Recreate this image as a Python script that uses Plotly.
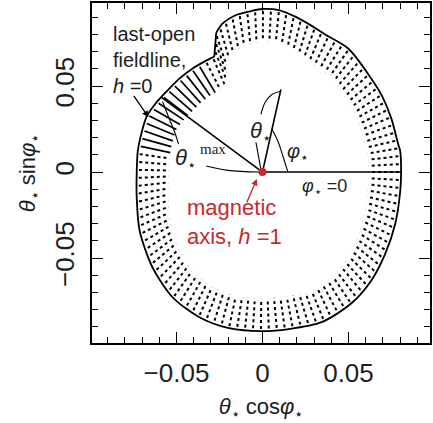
import numpy as np
import plotly.graph_objects as go

# Boundary of the polar cap (last-open fieldline), CCW from phi=0
bound_x = [0.0806, 0.0801, 0.0789, 0.0749, 0.0697, 0.0633, 0.0500, 0.0367, 0.0286, 0.0194,
           0.0095, -0.0003, -0.0066, -0.0153, -0.0234, -0.0269, -0.0280, -0.0338, -0.0408,
           -0.0483, -0.0558, -0.0621, -0.0673, -0.0708, -0.0725, -0.0731, -0.0731, -0.0714,
           -0.0639, -0.0523, -0.0367, -0.0194, -0.0003, 0.0153, 0.0344, 0.0517, 0.0633,
           0.0714, 0.0772, 0.0801]
bound_y = [0.0000, 0.0121, 0.0162, 0.0312, 0.0439, 0.0543, 0.0717, 0.0798, 0.0850, 0.0902,
           0.0942, 0.0948, 0.0936, 0.0913, 0.0861, 0.0809, 0.0671, 0.0642, 0.0601,
           0.0543, 0.0468, 0.0399, 0.0324, 0.0208, 0.0121, 0.0000, -0.0150, -0.0341,
           -0.0555, -0.0728, -0.0844, -0.0908, -0.0925, -0.0913, -0.0873, -0.0763, -0.0630,
           -0.0474, -0.0301, -0.0110]
NOTCH_TOP, NOTCH_BOTTOM = 15, 16   # indices of the notch corners

# Rays and guide curves
theta_max_ray_x = [0.0, -0.0587]
theta_max_ray_y = [0.0, 0.0434]
theta_ray_x = [0.0, 0.0107]
theta_ray_y = [0.0, 0.0480]
phi_arc_x = [0.0055, 0.0090, 0.0119, 0.0148]
phi_arc_y = [0.0249, 0.0179, 0.0092, 0.0000]
theta_brk_x = [0.0101, 0.0055, 0.0015, -0.0009]
theta_brk_y = [0.0468, 0.0451, 0.0405, 0.0335]
theta_lead_x = [-0.0038, -0.0009]
theta_lead_y = [0.0173, 0.0017]
tmax_arc_x = [-0.0581, -0.0540, -0.0506, -0.0488]
tmax_arc_y = [0.0410, 0.0306, 0.0220, 0.0162]
tmax_lead_x = [-0.0327, -0.0200, -0.0020]
tmax_lead_y = [0.0035, 0.0010, 0.0000]

x_ticks = [-0.05, 0, 0.05]
x_ticktext = ["\u22120.05", "0", "0.05"]
y_ticks = [-0.05, 0, 0.05]
y_ticktext = ["\u22120.05", "0", "0.05"]

RED = "#c8282d"
INK = "#1e1e1e"
FONT = "Liberation Sans, Arial, sans-serif"
STAR = "<sub>\u22c6</sub>"

fig = go.Figure()

# hatching along the boundary (radial, inward)
bxc = np.array(bound_x + [bound_x[0]])
byc = np.array(bound_y + [bound_y[0]])
seg = np.hypot(np.diff(bxc), np.diff(byc))
s = np.concatenate([[0], np.cumsum(seg)])
n_hatch = 116
ss = np.linspace(0, s[-1], n_hatch, endpoint=False)
hx = np.interp(ss, s, bxc)
hy = np.interp(ss, s, byc)
r = np.hypot(hx, hy)
ux, uy = hx / r, hy / r
gap, L = 0.0012, 0.0175
ang = np.degrees(np.arctan2(hy, hx)) % 360
dot_x, dot_y, sol_x, sol_y = [], [], [], []
for i in range(n_hatch):
    xs = [hx[i] - ux[i] * gap, hx[i] - ux[i] * (gap + L), None]
    ys = [hy[i] - uy[i] * gap, hy[i] - uy[i] * (gap + L), None]
    if 118 <= ang[i] <= 170:
        sol_x += xs; sol_y += ys
    else:
        dot_x += xs; dot_y += ys

fig.add_trace(go.Scatter(x=dot_x, y=dot_y, mode="lines",
                         line=dict(color="black", width=2, dash="dot"), hoverinfo="skip"))
fig.add_trace(go.Scatter(x=sol_x, y=sol_y, mode="lines",
                         line=dict(color="black", width=1.7), hoverinfo="skip"))

# boundary: smooth arc from notch bottom all the way round to notch top, plus straight notch wall
order = list(range(NOTCH_BOTTOM, len(bound_x))) + list(range(0, NOTCH_TOP + 1))
fig.add_trace(go.Scatter(x=[bound_x[i] for i in order], y=[bound_y[i] for i in order], mode="lines",
                         line=dict(color="black", width=1.8, shape="spline", smoothing=0.8),
                         hoverinfo="skip"))
fig.add_trace(go.Scatter(x=[bound_x[NOTCH_TOP], bound_x[NOTCH_BOTTOM]],
                         y=[bound_y[NOTCH_TOP], bound_y[NOTCH_BOTTOM]], mode="lines",
                         line=dict(color="black", width=1.8), hoverinfo="skip"))

# phi=0 ray to boundary
fig.add_trace(go.Scatter(x=[0, bound_x[0]], y=[0, bound_y[0]], mode="lines",
                         line=dict(color="black", width=1.6), hoverinfo="skip"))
for xs, ys, w in [(theta_max_ray_x, theta_max_ray_y, 1.6), (theta_ray_x, theta_ray_y, 1.6),
                  (phi_arc_x, phi_arc_y, 1.1), (theta_brk_x, theta_brk_y, 1.1),
                  (theta_lead_x, theta_lead_y, 1.1), (tmax_arc_x, tmax_arc_y, 1.1),
                  (tmax_lead_x, tmax_lead_y, 1.1)]:
    fig.add_trace(go.Scatter(x=xs, y=ys, mode="lines",
                             line=dict(color="black", width=w, shape="spline"), hoverinfo="skip"))

# magnetic axis dot
fig.add_trace(go.Scatter(x=[0], y=[0], mode="markers", marker=dict(color=RED, size=8),
                         hoverinfo="skip"))

ann = []
ann.append(dict(x=-0.0880, y=0.0880, xref="x", yref="y", xanchor="left", yanchor="top",
                text="last-open<br>fieldline,<br><i>h</i> =0", showarrow=False, align="left",
                font=dict(size=20, color=INK, family=FONT)))
ann.append(dict(x=-0.0662, y=0.0318, ax=-0.0754, ay=0.0451, xref="x", yref="y", axref="x", ayref="y",
                text="", showarrow=True, arrowhead=2, arrowsize=1, arrowwidth=1.3, arrowcolor="black"))
ann.append(dict(x=-0.0032, y=-0.0040, ax=-0.0095, ay=-0.0185, xref="x", yref="y", axref="x", ayref="y",
                text="", showarrow=True, arrowhead=2, arrowsize=1, arrowwidth=1.3, arrowcolor=RED))
ann.append(dict(x=-0.0450, y=-0.0290, xref="x", yref="y", xanchor="left", yanchor="middle",
                text="magnetic<br>axis, <i>h</i> =1", showarrow=False, align="left",
                font=dict(size=22, color=RED, family=FONT)))
ann.append(dict(x=-0.0450, y=0.0075, xref="x", yref="y", xanchor="center", yanchor="middle",
                text="<i>\u03b8</i>" + STAR, showarrow=False,
                font=dict(size=22, color=INK, family=FONT)))
ann.append(dict(x=-0.0290, y=0.0132, xref="x", yref="y", xanchor="center", yanchor="middle",
                text="max", showarrow=False,
                font=dict(size=15, color=INK, family="Liberation Serif, Times New Roman, serif")))
ann.append(dict(x=-0.0010, y=0.0235, xref="x", yref="y", xanchor="center", yanchor="middle",
                text="<i>\u03b8</i>" + STAR, showarrow=False,
                font=dict(size=22, color=INK, family=FONT)))
ann.append(dict(x=0.0205, y=0.0115, xref="x", yref="y", xanchor="center", yanchor="middle",
                text="<i>\u03c6</i>" + STAR, showarrow=False,
                font=dict(size=20, color=INK, family=FONT)))
ann.append(dict(x=0.0362, y=-0.0092, xref="x", yref="y", xanchor="center", yanchor="middle",
                text="<i>\u03c6</i>" + STAR + " =0", showarrow=False,
                font=dict(size=18, color=INK, family=FONT)))

fig.update_layout(
    width=433, height=423,
    margin=dict(l=92, r=1, t=1, b=80),
    plot_bgcolor="white", paper_bgcolor="white",
    showlegend=False,
    annotations=ann,
    font=dict(family=FONT, color=INK),
)
axis_common = dict(showgrid=False, zeroline=False, showline=True, linecolor="black", linewidth=1.5,
                   mirror="allticks", ticks="inside", ticklen=11, tickwidth=1.4, tickcolor="black",
                   tickfont=dict(size=26, color=INK, family=FONT),
                   minor=dict(dtick=0.01, tick0=0, ticks="inside", ticklen=6, tickwidth=1.2,
                              tickcolor="black"))
fig.update_xaxes(range=[-0.0991, 0.0974], tickvals=x_ticks, ticktext=x_ticktext,
                 ticklabelstandoff=6,
                 title=dict(text="<i>\u03b8</i>" + STAR + " cos<i>\u03c6</i>" + STAR,
                            font=dict(size=22, color=INK, family=FONT), standoff=12),
                 **axis_common)
fig.update_yaxes(range=[-0.0994, 0.0983], tickvals=y_ticks, ticktext=y_ticktext, tickangle=-90,
                 ticklabelstandoff=6,
                 title=dict(text="<i>\u03b8</i>" + STAR + " sin<i>\u03c6</i>" + STAR,
                            font=dict(size=22, color=INK, family=FONT), standoff=8),
                 **axis_common)

fig.write_html("out.html")
